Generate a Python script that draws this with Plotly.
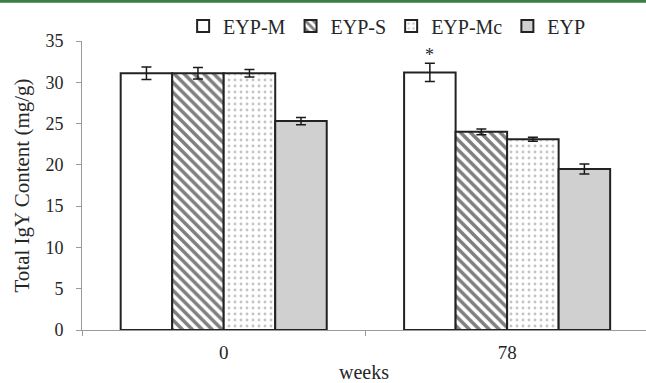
import plotly.graph_objects as go

# Total IgY content by storage time
weeks = ["0", "78"]
series_names = ["EYP-M", "EYP-S", "EYP-Mc", "EYP"]
eyp_m = [31.1, 31.2]
eyp_m_err = [0.75, 1.1]
eyp_s = [31.1, 24.0]
eyp_s_err = [0.7, 0.35]
eyp_mc = [31.1, 23.1]
eyp_mc_err = [0.45, 0.25]
eyp = [25.3, 19.5]
eyp_err = [0.45, 0.6]

# significance mark above EYP-M at week 78
star_week = 1
star_y = 33.3

W, H = 646, 383
ML, MR, MT, MB = 82, 0, 41, 53
BARGAP = 0.273
SERIF = "Liberation Serif, Times New Roman, serif"
EDGE = "#222222"
AXIS = "#9a9a9a"
TEXT = "#262626"

styles = [
    dict(color="white"),
    dict(color="white", pattern=dict(shape="\\", fgcolor="#000000", bgcolor="white",
                                     size=7, solidity=0.5)),
    dict(color="white", pattern=dict(shape=".", fgcolor="#8a8a8a", bgcolor="white",
                                     size=6, solidity=0.18)),
    dict(color="#d0d0d0"),
]
values = [eyp_m, eyp_s, eyp_mc, eyp]
errors = [eyp_m_err, eyp_s_err, eyp_mc_err, eyp_err]

fig = go.Figure()
for name, vals, errs, st in zip(series_names, values, errors, styles):
    fig.add_trace(go.Bar(
        name=name, x=weeks, y=vals,
        marker=dict(line=dict(color=EDGE, width=2), **st),
        error_y=dict(type="data", array=errs, visible=True,
                     color="#1a1a1a", thickness=1.5, width=5),
    ))

# x position of the first bar in a group (category units)
n = len(series_names)
bar_w = (1 - BARGAP) / n
first_offset = -(1 - BARGAP) / 2 + bar_w / 2
fig.add_annotation(x=star_week + first_offset, y=star_y, xref="x", yref="y",
                   text="*", showarrow=False,
                   font=dict(family=SERIF, size=18, color=TEXT))

# green rule along the top edge
fig.add_shape(type="rect", xref="paper", yref="paper",
              xsizemode="pixel", ysizemode="pixel", xanchor=0, yanchor=1,
              x0=-ML, x1=W, y0=MT - 2.7, y1=MT + 2,
              fillcolor="#3a7d45", line=dict(width=0))

fig.update_layout(
    width=W, height=H,
    margin=dict(l=ML, r=MR, t=MT, b=MB, pad=0),
    paper_bgcolor="white", plot_bgcolor="white",
    barmode="group", bargap=BARGAP, bargroupgap=0,
    font=dict(family=SERIF, color=TEXT),
    showlegend=True,
    legend=dict(orientation="h", x=0.541, xanchor="center",
                y=1.052, yanchor="middle",
                font=dict(family=SERIF, size=20, color=TEXT),
                bgcolor="rgba(0,0,0,0)", itemwidth=30, tracegroupgap=0),
    xaxis=dict(type="category", range=[-0.5, 1.49], automargin=False,
               showline=True, linecolor=AXIS, linewidth=1,
               ticks="outside", tickson="boundaries", ticklen=5, tickcolor=AXIS,
               ticklabelstandoff=5,
               tickfont=dict(family=SERIF, size=19, color=TEXT),
               title=dict(text="weeks", standoff=15,
                          font=dict(family=SERIF, size=20, color=TEXT)),
               showgrid=False, zeroline=False),
    yaxis=dict(range=[0, 35], dtick=5, automargin=False,
               showline=True, linecolor=AXIS, linewidth=1,
               ticks="outside", ticklen=5, tickcolor=AXIS,
               ticklabelstandoff=9,
               tickfont=dict(family=SERIF, size=18, color=TEXT),
               title=dict(text="Total IgY Content (mg/g)", standoff=10,
                          font=dict(family=SERIF, size=21, color=TEXT)),
               showgrid=False, zeroline=False),
)

fig.write_html("out.html")
